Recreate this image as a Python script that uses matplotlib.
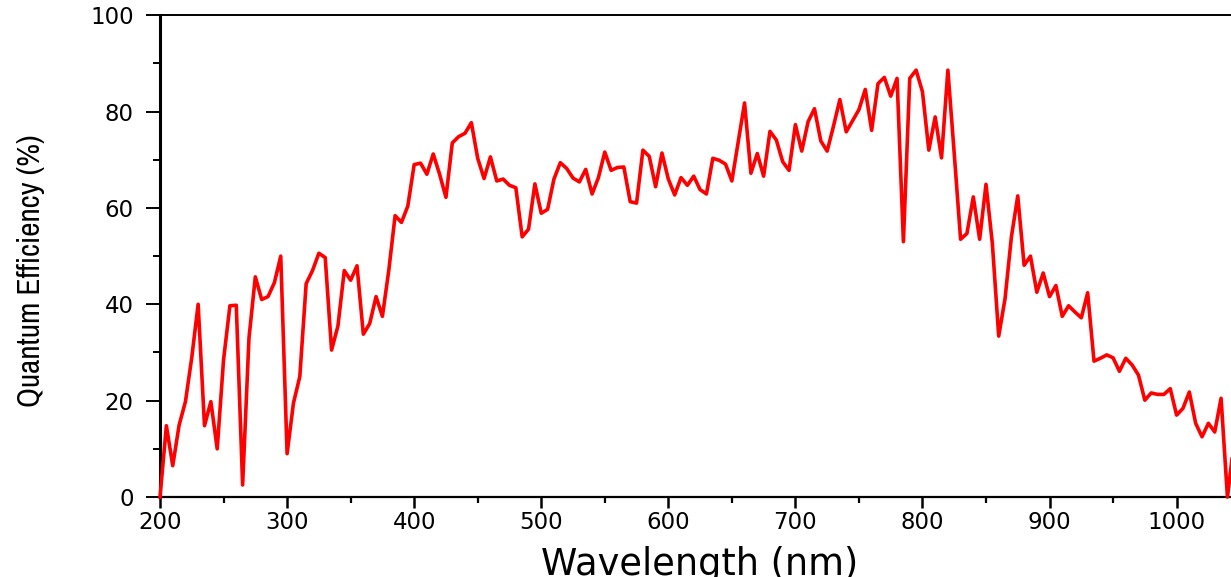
import numpy as np
import matplotlib
matplotlib.use("Agg")
import matplotlib.pyplot as plt
from matplotlib import font_manager
from matplotlib.ticker import MultipleLocator

# sampled every 5 nm, 200 .. 1045 nm
wavelength = np.arange(200, 1050, 5)
qe = [
    0, 14.8, 6.5, 14.9, 19.8, 29, 40, 14.8, 19.8, 10,
    28.5, 39.7, 39.8, 2.5, 33, 45.7, 41, 41.6, 44.5, 50,
    9, 19.5, 25, 44.3, 47, 50.6, 49.7, 30.5, 35.5, 47,
    45, 48, 33.8, 36, 41.6, 37.5, 47, 58.4, 57, 60.4,
    69, 69.3, 67, 71.2, 67, 62.2, 73.5, 74.8, 75.5, 77.7,
    70.3, 66.1, 70.6, 65.6, 66, 64.7, 64.2, 54, 55.6, 65,
    58.9, 59.7, 66, 69.4, 68.2, 66.2, 65.4, 68, 62.9, 66.3,
    71.6, 67.8, 68.4, 68.5, 61.3, 61, 72, 70.7, 64.4, 71.4,
    66, 62.7, 66.3, 64.7, 66.6, 63.8, 62.9, 70.3, 69.9, 69.1,
    65.6, 73.7, 81.8, 67.2, 71.3, 66.6, 75.9, 74.1, 69.6, 67.8,
    77.3, 71.8, 77.9, 80.6, 73.9, 71.8, 77, 82.5, 75.8, 78.1,
    80.4, 84.6, 76.1, 85.8, 87.1, 83.2, 86.9, 53, 86.9, 88.6,
    84.1, 72, 78.9, 70.4, 88.6, 71.3, 53.5, 54.7, 62.3, 53.5,
    64.9, 52.6, 33.4, 41.2, 54, 62.5, 48.1, 50, 42.5, 46.5,
    41.6, 43.9, 37.5, 39.7, 38.4, 37.2, 42.4, 28.2, 28.8, 29.5,
    28.9, 26.1, 28.8, 27.4, 25.3, 20.1, 21.6, 21.3, 21.3, 22.5,
    17, 18.4, 21.8, 15.3, 12.5, 15.3, 13.5, 20.5, 0, 11,
]
xticks = [200, 300, 400, 500, 600, 700, 800, 900, 1000]
yticks = [0, 20, 40, 60, 80, 100]

# look for a narrow face for the y label (the original is squeezed)
narrow = None
for f in font_manager.fontManager.ttflist:
    if "Narrow" in f.name or "Condensed" in f.name:
        narrow = font_manager.FontProperties(family=f.name)
        break
if narrow is None:
    narrow = font_manager.FontProperties(family="DejaVu Sans", stretch="condensed")

fig = plt.figure(figsize=(12.31, 5.77), dpi=100)
ax = fig.add_axes([0.13, 0.1386, 0.87, 0.835])

ax.plot(wavelength, qe, color="#ff0000", lw=2.6, clip_on=False, zorder=3)

ax.set_xlim(200, 1042.8)
ax.set_ylim(0, 100)
ax.set_xticks(xticks)
ax.set_yticks(yticks)
ax.xaxis.set_minor_locator(MultipleLocator(50))
ax.yaxis.set_minor_locator(MultipleLocator(10))

ax.spines["right"].set_visible(False)
ax.spines["left"].set_linewidth(2.2)
ax.spines["bottom"].set_linewidth(1.6)
ax.spines["top"].set_linewidth(1.4)

ax.tick_params(axis="x", which="major", direction="out", length=8, width=1.8,
               labelsize=16.5, pad=2)
ax.tick_params(axis="x", which="minor", direction="out", length=4, width=1.6)
ax.tick_params(axis="y", which="major", direction="out", length=10, width=1.4,
               labelsize=16.5, pad=9)
ax.tick_params(axis="y", which="minor", direction="out", length=5, width=1.4)

ax.set_xlabel("Wavelength (nm)", fontsize=26.5, family="DejaVu Sans")
ax.xaxis.set_label_coords(0.504, -0.101, transform=ax.transAxes)
ax.xaxis.label.set_va("top")

ylab = ax.set_ylabel("Quantum Efficiency (%)", fontproperties=narrow, fontsize=22.5)
ax.yaxis.set_label_coords(-0.107, 0.47)

# squeeze the label to the length it has in the original (~280 px)
r = fig.canvas.get_renderer()
h = ylab.get_window_extent(r).height
if h > 285:
    ylab.set_fontsize(22.5 * 280 / h)

fig.savefig("out.png", dpi=100)
